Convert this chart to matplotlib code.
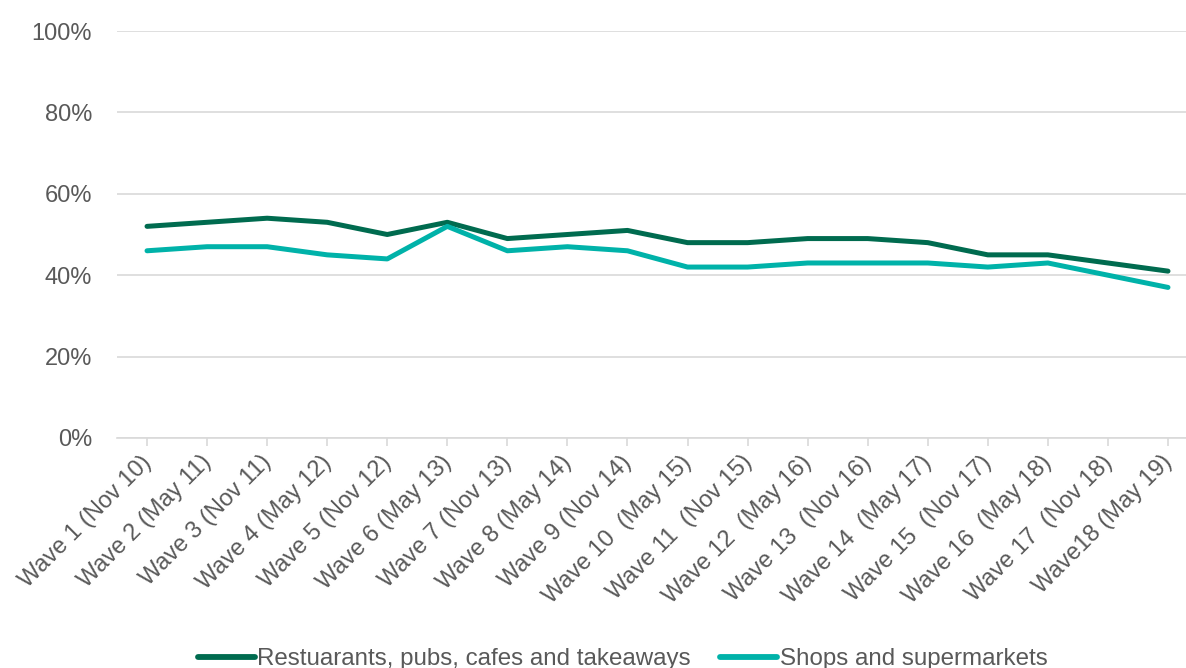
import matplotlib
matplotlib.use("Agg")
import matplotlib.pyplot as plt
from matplotlib.ticker import FuncFormatter
from matplotlib.transforms import ScaledTranslation

categories = ["Wave 1 (Nov 10)", "Wave 2 (May 11)", "Wave 3 (Nov 11)", "Wave 4 (May 12)",
              "Wave 5 (Nov 12)", "Wave 6 (May 13)", "Wave 7 (Nov 13)", "Wave 8 (May 14)",
              "Wave 9 (Nov 14)", "Wave 10  (May 15)", "Wave 11  (Nov 15)", "Wave 12  (May 16)",
              "Wave 13  (Nov 16)", "Wave 14  (May 17)", "Wave 15  (Nov 17)", "Wave 16  (May 18)",
              "Wave 17  (Nov 18)", "Wave18 (May 19)"]
restaurants = [52, 53, 54, 53, 50, 53, 49, 50, 51, 48, 48, 49, 49, 48, 45, 45, 43, 41]
shops = [46, 47, 47, 45, 44, 52, 46, 47, 46, 42, 42, 43, 43, 43, 42, 43, 40, 37]
series_names = ["Restuarants, pubs, cafes and takeaways", "Shops and supermarkets"]
yticks = [0, 20, 40, 60, 80, 100]

plt.rcParams['font.family'] = ['Liberation Sans', 'DejaVu Sans']
text_color = "#595959"
fs = 17

fig = plt.figure(figsize=(11.86, 6.68), dpi=100)
ax = fig.add_axes([117/1186, 1-438/668, 1-117/1186, (438-31)/668])

x = list(range(len(categories)))
ax.plot(x, restaurants, color="#006B4F", lw=3.6, solid_capstyle="round", label=series_names[0])
ax.plot(x, shops, color="#00B2A9", lw=3.6, solid_capstyle="round", label=series_names[1])

ax.set_ylim(0, 100)
ax.set_xlim(-0.5, len(categories) - 1 + 0.3)
ax.set_yticks(yticks)
ax.yaxis.set_major_formatter(FuncFormatter(lambda v, p: f"{int(v)}%"))
ax.grid(axis="y", color="#D9D9D9", lw=1.2)
ax.set_axisbelow(True)
for s in ["top", "right", "left"]:
    ax.spines[s].set_visible(False)
ax.spines["bottom"].set_color("#D9D9D9")
ax.spines["bottom"].set_linewidth(1.2)

ax.set_xticks(x)
ax.set_xticklabels(categories, rotation=45, ha="right", rotation_mode="anchor",
                   fontsize=fs, color=text_color)
ax.tick_params(axis="x", length=6, color="#D9D9D9", width=1.2, pad=2)
off = ScaledTranslation(-7/100, -2/100, fig.dpi_scale_trans)
for lbl in ax.get_xticklabels():
    lbl.set_transform(lbl.get_transform() + off)
ax.tick_params(axis="y", length=0, labelsize=fs, labelcolor=text_color, pad=18)

leg = fig.legend(loc="lower center", bbox_to_anchor=(0.525, -0.036), ncol=2, frameon=False,
                 prop={'size': 17.4}, handlelength=2.35, handletextpad=0.12, columnspacing=1.2)
for t in leg.get_texts():
    t.set_color(text_color)
for h in leg.legend_handles:
    h.set_linewidth(4.2)

fig.savefig("out.png", dpi=100)
